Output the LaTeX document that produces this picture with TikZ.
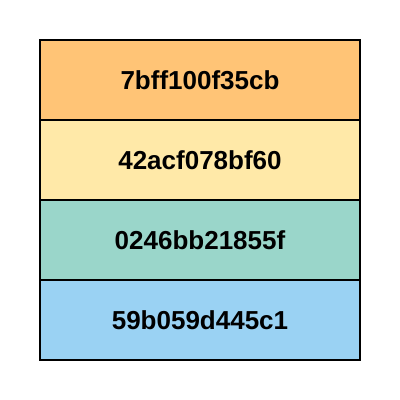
\documentclass[tikz,border=0pt]{standalone}
\usepackage{fontspec}
\setmainfont{Liberation Sans}
\usetikzlibrary{positioning}

\definecolor{hashorange}{HTML}{FFC476}
\definecolor{hashyellow}{HTML}{FFE9A8}
\definecolor{hashgreen}{HTML}{9AD6CA}
\definecolor{hashblue}{HTML}{9AD2F3}

\begin{document}
\begin{tikzpicture}[x=1pt,y=1pt,
    hashbox/.style={draw=black,line width=2pt,minimum width=320pt,minimum height=80pt,
        inner sep=0pt,outer sep=0pt,font=\fontsize{26}{30}\selectfont\bfseries}]
    
    % fix the white margin round the stack
    \useasboundingbox (0,0) rectangle (400,400);
    
    % stack of hashes, top to bottom
    \node[hashbox,fill=hashorange] (hashA) at (200,320) {7bff100f35cb};
    \node[hashbox,fill=hashyellow,below=0pt of hashA] (hashB) {42acf078bf60};
    \node[hashbox,fill=hashgreen,below=0pt of hashB] (hashC) {0246bb21855f};
    \node[hashbox,fill=hashblue,below=0pt of hashC] (hashD) {59b059d445c1};
    
\end{tikzpicture}
\end{document}
